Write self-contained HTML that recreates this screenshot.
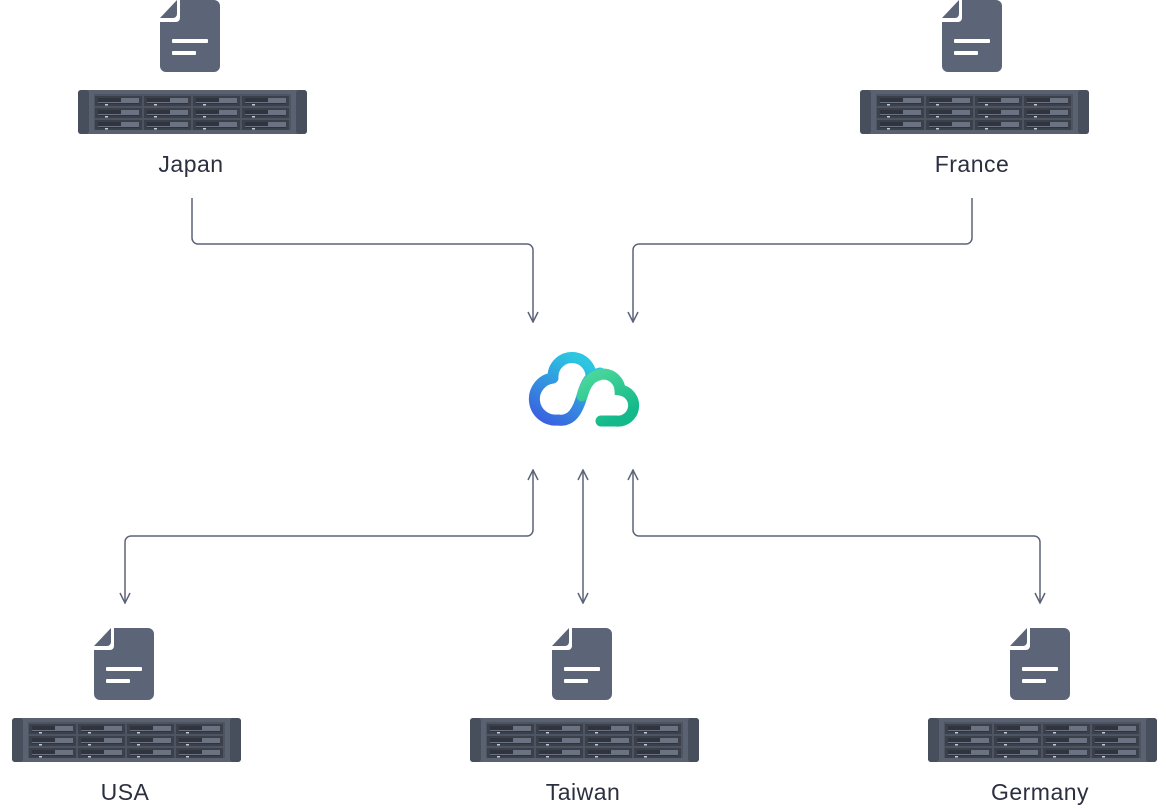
<!DOCTYPE html>
<html><head><meta charset="utf-8"><style>
html,body{margin:0;padding:0;background:#fff;width:1166px;height:810px;overflow:hidden}
svg{display:block}
text{font-family:"Liberation Sans",sans-serif;font-size:23px;letter-spacing:0.5px;fill:#2b3040}
</style></head><body>
<svg width="1166" height="810" viewBox="0 0 1166 810" xmlns="http://www.w3.org/2000/svg">
<defs>
<g id="bay">
<rect x="0" y="0" width="47" height="10" fill="#3b404b"/>
<rect x="3" y="2" width="41" height="6" fill="#2f343e"/>
<rect x="26" y="2" width="18" height="5" fill="#6b7282"/>
<rect x="3" y="6" width="23" height="1" fill="#6b7282"/>
<rect x="10" y="8" width="3" height="1.5" fill="#c9ccd2"/>
</g>
<g id="row">
<use href="#bay" x="0"/><use href="#bay" x="49"/><use href="#bay" x="98"/><use href="#bay" x="147"/>
</g>
<g id="server">
<rect x="0" y="0" width="229" height="44" rx="3" fill="#5a6271"/>
<rect x="0" y="0" width="11" height="44" rx="3" fill="#484f5c"/>
<rect x="218" y="0" width="11" height="44" rx="3" fill="#484f5c"/>
<rect x="16" y="4" width="197" height="36" fill="#4d5462"/>
<use href="#row" x="17" y="6"/><use href="#row" x="17" y="18"/><use href="#row" x="17" y="30"/>
</g>
<g id="doc">
<path d="M20 0 H54 a6 6 0 0 1 6 6 V66 a6 6 0 0 1 -6 6 H6 a6 6 0 0 1 -6 -6 V22 H16 a4 4 0 0 0 4 -4 Z" fill="#5c6577"/>
<path d="M0 18 L17 0 V14 a4 4 0 0 1 -4 4 Z" fill="#5c6577"/>
<rect x="12" y="39" width="36" height="4" rx="1" fill="#fff"/>
<rect x="12" y="51" width="24" height="4" rx="1" fill="#fff"/>
</g>
<marker id="ah" viewBox="0 0 12 12" refX="11" refY="6" markerWidth="12" markerHeight="12" markerUnits="userSpaceOnUse" orient="auto-start-reverse">
<path d="M1 1 L11 6 L1 11" fill="none" stroke="#5b6478" stroke-width="1.5"/>
</marker>
<linearGradient id="gb" x1="0" y1="1" x2="0.6" y2="0"><stop offset="0" stop-color="#3b5de0"/><stop offset="1" stop-color="#2cc6e0"/></linearGradient>
<linearGradient id="gg" x1="0" y1="0" x2="0.6" y2="1"><stop offset="0" stop-color="#4fd99c"/><stop offset="1" stop-color="#13b98a"/></linearGradient>
</defs>

<use href="#doc" x="160" y="0"/><use href="#server" x="78" y="90"/>
<text x="191" y="172" text-anchor="middle">Japan</text>
<use href="#doc" x="942" y="0"/><use href="#server" x="860" y="90"/>
<text x="972" y="172" text-anchor="middle">France</text>
<use href="#doc" x="94" y="628"/><use href="#server" x="12" y="718"/>
<text x="125" y="800" text-anchor="middle">USA</text>
<use href="#doc" x="552" y="628"/><use href="#server" x="470" y="718"/>
<text x="583" y="800" text-anchor="middle">Taiwan</text>
<use href="#doc" x="1010" y="628"/><use href="#server" x="928" y="718"/>
<text x="1040" y="800" text-anchor="middle">Germany</text>

<g fill="none" stroke="#5b6478" stroke-width="1.5">
<path d="M192 198 V238 a6 6 0 0 0 6 6 H527 a6 6 0 0 1 6 6 V322" marker-end="url(#ah)"/>
<path d="M972 198 V238 a6 6 0 0 1 -6 6 H639 a6 6 0 0 0 -6 6 V322" marker-end="url(#ah)"/>
<path d="M533 470 V530 a6 6 0 0 1 -6 6 H131 a6 6 0 0 0 -6 6 V603" marker-start="url(#ah)" marker-end="url(#ah)"/>
<path d="M583 470 V603" marker-start="url(#ah)" marker-end="url(#ah)"/>
<path d="M633 470 V530 a6 6 0 0 0 6 6 H1034 a6 6 0 0 1 6 6 V603" marker-start="url(#ah)" marker-end="url(#ah)"/>
</g>

<g fill="none" stroke-width="11" stroke-linecap="round">
<path d="M553 376 A18 18 0 0 1 591 377 M553 378 A19 19 0 0 0 558 420 C572 422 578 410 582 396 C586 382 590 375 600 373" stroke="url(#gb)"/>
<path d="M582 396 C586 382 592 375 604 374 A17 17 0 0 1 620 390 A14 14 0 0 1 616 421 H601" stroke="url(#gg)"/>
</g>
</svg>
</body></html>
